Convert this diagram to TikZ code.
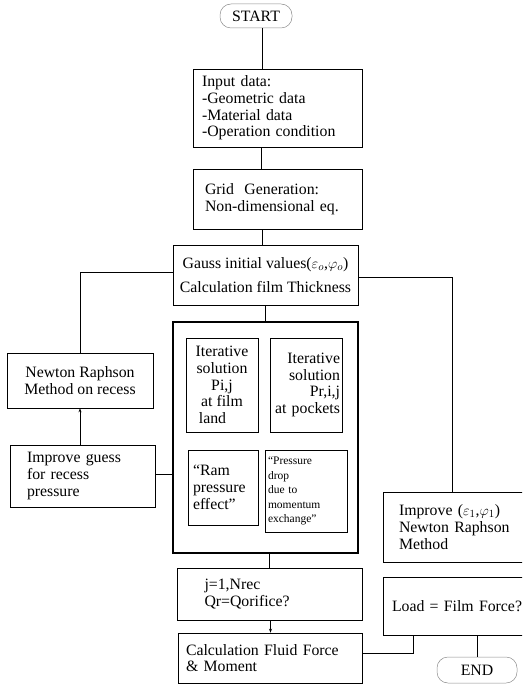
\documentclass[tikz,border=0pt]{standalone}
\usepackage{fontspec}
\setmainfont{Liberation Serif}
\usetikzlibrary{arrows.meta}
\begin{document}
\begin{tikzpicture}[x=1pt,y=-1pt,
  every node/.style={font=\fontsize{15.8}{16.8}\selectfont},
  box/.style={draw, line width=0.6pt, rectangle, inner sep=0pt},
  inner/.style={draw, line width=0.5pt, rectangle, inner sep=0pt},
  term/.style={draw=black!45, line width=0.5pt, rounded corners=11pt, inner sep=0pt},
  conn/.style={line width=0.6pt},
  arr/.style={line width=0.6pt, -{Stealth[length=4pt,width=3pt]}}
]
\useasboundingbox (0,0) rectangle (522,684);
\begin{scope}
\clip (0,0) rectangle (522,684);
% terminals
\node[term, minimum width=72pt, minimum height=24pt] (start) at (256,16) {START};
\node[term, minimum width=80pt, minimum height=26pt] (end) at (477,670) {END};
% main column
\node[box, minimum width=169pt, minimum height=78pt, text width=151pt, align=left] (inp) at (277.5,108)
 {Input data:\\-Geometric data\\-Material data\\-Operation condition};
\node[box, minimum width=169pt, minimum height=60pt, text width=145pt, align=left] (grid) at (277.5,199)
 {Grid\ \ Generation:\\Non-dimensional eq.};
\node[box, minimum width=185pt, minimum height=60pt, align=center] (gauss) at (265.5,275)
 {Gauss initial values($\varepsilon_{o}$,$\varphi_{o}$)\\[8pt]Calculation film Thickness};
\node[draw, line width=2.6pt, minimum width=185pt, minimum height=231pt, inner sep=0pt] (big) at (265.5,437.5) {};
\node[inner, minimum width=72pt, minimum height=94pt, align=center] (b1) at (222,385)
 {Iterative\\solution\\Pi,j\\at film\\land\hspace*{1.2em}};
\node[inner, minimum width=72pt, minimum height=94pt, text width=68pt, align=right] (b2) at (306,385)
 {Iterative\hspace*{2pt}\\solution\hspace*{3pt}\\Pr,i,j\\at pockets};
\node[inner, minimum width=70pt, minimum height=75pt, text width=60pt, align=left] (b3) at (223,487.5)
 {``Ram\\pressure\\effect''};
\node[inner, minimum width=82pt, minimum height=82pt, text width=76pt, align=left,
  font=\fontsize{11.5}{14.5}\selectfont] (b4) at (306,491)
 {``Pressure\\drop\\due to\\momentum\\exchange''};
\node[box, minimum width=185pt, minimum height=52pt, text width=130pt, align=left] (jbox) at (269.5,594)
 {j=1,Nrec\\Qr=Qorifice?};
\node[box, minimum width=184pt, minimum height=50pt, text width=168pt, align=left] (calc) at (270,658)
 {Calculation Fluid Force\\\& Moment};
% left column
\node[box, minimum width=146pt, minimum height=55pt, align=center] (newton) at (80,380.5)
 {Newton Raphson\\Method on recess};
\node[box, minimum width=145pt, minimum height=62pt, text width=111pt, align=left] (guess) at (82.5,476)
 {Improve guess\\for recess\\pressure};
% right column
\node[box, minimum width=150pt, minimum height=70pt, text width=118pt, align=left] (impr) at (458,527)
 {Improve ($\varepsilon_{1}$,$\varphi_{1}$)\\Newton Raphson\\Method};
\node[box, minimum width=150pt, minimum height=58pt, text width=132pt, align=left] (load) at (458,606)
 {Load = Film Force?};
% connectors
\draw[conn] ([xshift=6pt]start.south) -- ([xshift=6pt]start.south |- inp.north);
\draw[conn] ([xshift=-16pt]inp.south) -- ([xshift=-16pt]grid.north);
\draw[conn] ([xshift=-15pt]grid.south) -- ([xshift=-3pt]gauss.north);
\draw[conn] ([xshift=0pt]gauss.south) -- (gauss.south |- big.north);
\draw[conn] ([yshift=3pt]gauss.west) -| (newton.north);
\draw[arr] (guess.north -| newton.south) -- (newton.south);
\draw[conn] ([yshift=2pt]guess.east) -- ([yshift=2pt]guess.east -| big.west);
\draw[conn] ([yshift=-2pt]gauss.east) -| ([xshift=-6pt]impr.north);
\draw[conn] ([xshift=4pt]big.south) -- ([xshift=4pt]big.south |- jbox.north);
\draw[arr] ([xshift=1pt]jbox.south) -- ([xshift=1pt]jbox.south |- calc.north);
\draw[conn] ([yshift=5pt]calc.east) -| ([xshift=-45pt]load.south);
\draw[conn] (load.south -| end.north) -- (end.north);
\end{scope}
\end{tikzpicture}
\end{document}
